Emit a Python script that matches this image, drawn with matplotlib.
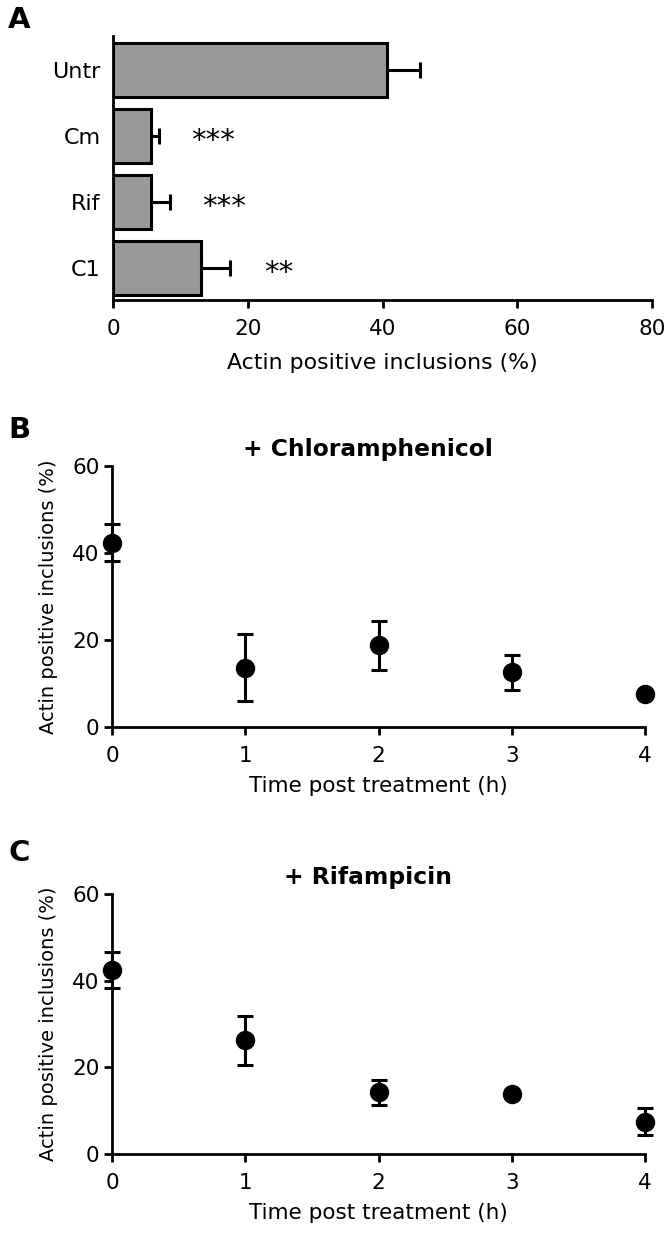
import matplotlib
matplotlib.use("Agg")
import matplotlib.pyplot as plt
import numpy as np

plt.rcParams['font.family'] = ['DejaVu Sans']

# Panel A data
categories = ["Untr", "Cm", "Rif", "C1"]
bar_values = [40.7, 5.7, 5.6, 13.0]
bar_errors = [4.9, 1.2, 2.9, 4.3]
stars = ["", "***", "***", "**"]
star_x = [0, 14.8, 16.5, 24.6]

# Panel B data (Chloramphenicol)
time_h = [0, 1, 2, 3, 4]
cm_values = [42.4, 13.6, 18.8, 12.6, 7.5]
cm_errors = [4.2, 7.7, 5.6, 4.0, 0.0]

# Panel C data (Rifampicin)
rif_values = [42.4, 26.2, 14.2, 13.8, 7.5]
rif_errors = [4.2, 5.6, 2.8, 0.6, 3.2]

LW = 2.0
TICKFS = 15.5

fig = plt.figure(figsize=(6.67, 12.35), dpi=100)

def style(ax):
    for s in ['top', 'right']:
        ax.spines[s].set_visible(False)
    for s in ['left', 'bottom']:
        ax.spines[s].set_linewidth(LW)
    ax.tick_params(width=LW, length=6, labelsize=TICKFS, direction='out', colors='black')

# Panel A
axA = fig.add_axes([113/667, 1-300/1235, (652-113)/667, (300-36)/1235])
pos = np.arange(len(categories))
axA.barh(pos, bar_values, height=0.82, color='#999999', edgecolor='black', linewidth=2.2, zorder=2)
axA.errorbar(bar_values, pos, xerr=[np.zeros(len(bar_errors)), bar_errors], fmt='none',
             ecolor='black', elinewidth=2.2, capsize=6, capthick=2.2, zorder=1)
for i, s in enumerate(stars):
    if s:
        axA.text(star_x[i], pos[i] + 0.07, s, ha='center', va='center', fontsize=21)
axA.set_ylim(3.48, -0.52)
axA.set_xlim(0, 80)
axA.set_xticks([0, 20, 40, 60, 80])
axA.set_yticks(pos)
axA.set_yticklabels(categories)
style(axA)
axA.tick_params(axis='y', length=0, pad=9, labelsize=16)
axA.tick_params(axis='x', pad=8)
axA.set_xlabel("Actin positive inclusions (%)", fontsize=15.8, labelpad=10)

def time_panel(rect, values, errors, title):
    ax = fig.add_axes(rect)
    ax.errorbar(time_h, values, yerr=errors, fmt='o', color='black', markersize=13,
                elinewidth=2.2, capsize=6, capthick=2.2, clip_on=False, zorder=3)
    ax.set_xlim(0, 4)
    ax.set_ylim(0, 60)
    ax.set_xticks([0, 1, 2, 3, 4])
    ax.set_yticks([0, 20, 40, 60])
    style(ax)
    ax.tick_params(axis='y', pad=3)
    ax.tick_params(axis='x', pad=8)
    ax.set_xlabel("Time post treatment (h)", fontsize=15.5, labelpad=7)
    ax.set_ylabel("Actin positive inclusions (%)", fontsize=14, labelpad=10)
    ax.set_title(title, fontsize=16.8, fontweight='bold', pad=7, x=0.48)
    return ax

axB = time_panel([112/667, 1-727/1235, (645-112)/667, (727-466)/1235], cm_values, cm_errors, "+ Chloramphenicol")
axC = time_panel([112/667, 1-1154/1235, (645-112)/667, (1154-894)/1235], rif_values, rif_errors, "+ Rifampicin")

fig.text(8/667, 1-20/1235, "A", fontsize=21, fontweight='bold', va='center', ha='left')
fig.text(8/667, 1-430/1235, "B", fontsize=21, fontweight='bold', va='center', ha='left')
fig.text(8/667, 1-853/1235, "C", fontsize=21, fontweight='bold', va='center', ha='left')

fig.savefig("out.png", dpi=100)
